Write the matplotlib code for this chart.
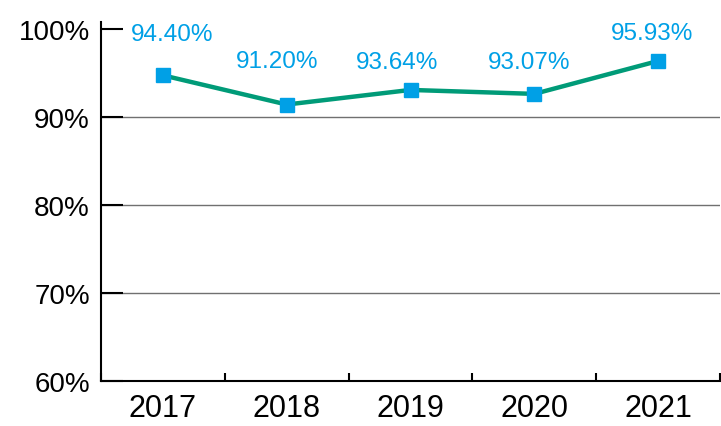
import matplotlib
matplotlib.use("Agg")
import matplotlib.pyplot as plt
import numpy as np

years = ["2017", "2018", "2019", "2020", "2021"]
values = [94.74, 91.42, 93.08, 92.63, 96.37]
labels = ["94.40%", "91.20%", "93.64%", "93.07%", "95.93%"]
yticks = [60, 70, 80, 90, 100]
ytick_labels = ["60%", "70%", "80%", "90%", "100%"]

# label offsets (points) relative to the markers
label_offsets = [(7, 30), (-7, 31), (-10, 20), (-4, 23), (-4, 20)]

plt.rcParams['font.family'] = ['Liberation Sans', 'DejaVu Sans']

fig = plt.figure(figsize=(7.21, 4.27), dpi=100)
ax = fig.add_axes([101/721, 45/427, 619/721, 359/427])

x = np.arange(len(years))
line_color = "#009B78"
blue = "#00A0E6"

ax.plot(x, values, color=line_color, lw=3.2, marker="s", markersize=10,
        markerfacecolor=blue, markeredgecolor=blue, zorder=3)

for xi, v, lab, off in zip(x, values, labels, label_offsets):
    ax.annotate(lab, (xi, v), xytext=off, textcoords="offset points",
                ha="center", va="center", fontsize=17.5, color=blue)

ax.set_xlim(-0.5, len(years) - 0.5)
ax.set_ylim(60, 100.8)

ax.set_yticks(yticks)
ax.set_yticklabels(ytick_labels, fontsize=20)
ax.tick_params(axis="y", direction="in", length=16, width=1.5, pad=8, colors="black")

ax.set_xticks(x)
ax.set_xticklabels(years, fontsize=22)
ax.set_xticks(np.arange(len(years) + 1) - 0.5, minor=True)
ax.tick_params(axis="x", which="major", length=0, pad=9)
ax.tick_params(axis="x", which="minor", direction="in", length=6, width=1.5)

for y in yticks[1:-1]:
    ax.axhline(y, color="#707070", lw=1.0, zorder=1)

for s in ["top", "right"]:
    ax.spines[s].set_visible(False)
for s in ["left", "bottom"]:
    ax.spines[s].set_linewidth(1.5)
    ax.spines[s].set_color("black")

fig.savefig("out.png", dpi=100)
